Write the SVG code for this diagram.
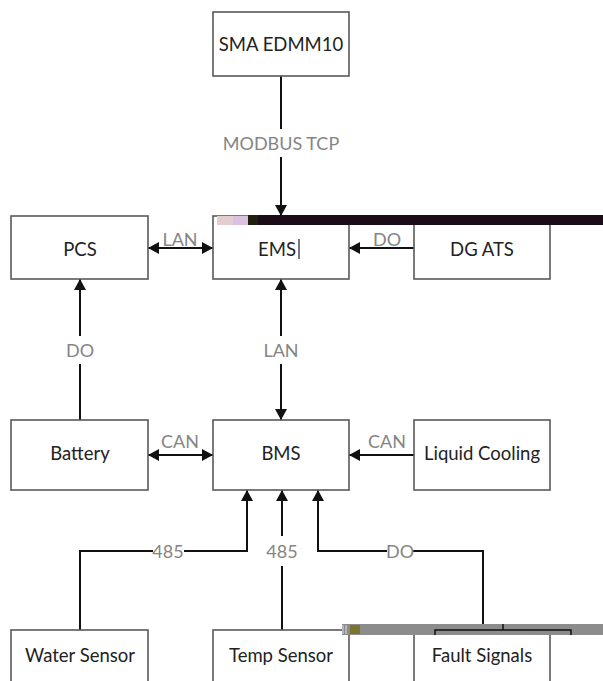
<svg xmlns="http://www.w3.org/2000/svg" width="603" height="681" viewBox="0 0 603 681">
<style>
.box{fill:#fff;stroke:#595959;stroke-width:1.6}
.nt{font-family:Lato,"Liberation Sans",sans-serif;font-size:18.5px;fill:#222;text-anchor:middle;dominant-baseline:central}
.lb{font-family:Lato,"Liberation Sans",sans-serif;font-size:18px;fill:#858585;text-anchor:middle;dominant-baseline:central}
.ln{fill:none;stroke:#111;stroke-width:2}
</style>
<defs>
<marker id="ah" markerUnits="userSpaceOnUse" markerWidth="11" markerHeight="12" refX="11" refY="6" orient="auto-start-reverse">
<path d="M0,0 L11,6 L0,12 z" fill="#111"/>
</marker>
</defs>
<rect width="603" height="681" fill="#fff"/>

<g id="connectors">
<path class="ln" d="M281,76 V129"/>
<path class="ln" d="M281,157 V216" marker-end="url(#ah)"/>
<text class="lb" x="281" y="143">MODBUS TCP</text>
<path class="ln" d="M148,248 H213" marker-start="url(#ah)" marker-end="url(#ah)"/>
<text class="lb" x="180" y="239">LAN</text>
<path class="ln" d="M414,248 H349" marker-end="url(#ah)"/>
<text class="lb" x="387" y="239">DO</text>
<path class="ln" d="M80,420 V364"/>
<path class="ln" d="M80,336 V279" marker-end="url(#ah)"/>
<text class="lb" x="80" y="350">DO</text>
<path class="ln" d="M281,336 V279" marker-end="url(#ah)"/>
<path class="ln" d="M281,364 V420" marker-end="url(#ah)"/>
<text class="lb" x="281" y="350">LAN</text>
<path class="ln" d="M148,455 H213" marker-start="url(#ah)" marker-end="url(#ah)"/>
<text class="lb" x="180" y="441">CAN</text>
<path class="ln" d="M414,455 H349" marker-end="url(#ah)"/>
<text class="lb" x="387" y="441">CAN</text>
<path class="ln" d="M80,630 V551 H153"/>
<path class="ln" d="M184,551 H247 V490" marker-end="url(#ah)"/>
<text class="lb" x="168" y="551">485</text>
<path class="ln" d="M282,630 V566"/>
<path class="ln" d="M282,536 V490" marker-end="url(#ah)"/>
<text class="lb" x="282" y="551">485</text>
<path class="ln" d="M483,624 V551 H413"/>
<path class="ln" d="M387,551 H318 V490" marker-end="url(#ah)"/>
<text class="lb" x="400" y="551">DO</text>
</g>

<g id="sma"><rect class="box" x="213" y="12" width="136" height="64"/><text class="nt" x="281" y="44">SMA EDMM10</text></g>
<g id="pcs"><rect class="box" x="11" y="216" width="137" height="63"/><text class="nt" x="80" y="249">PCS</text></g>
<g id="ems"><rect class="box" x="213" y="216" width="136" height="63"/><text class="nt" x="277" y="249">EMS</text><line x1="299" y1="239" x2="299" y2="259" stroke="#222" stroke-width="1.2"/></g>
<g id="dgats"><rect class="box" x="414" y="216" width="136" height="63"/><text class="nt" x="482" y="249">DG ATS</text></g>
<g id="battery"><rect class="box" x="11" y="420" width="137" height="70"/><text class="nt" x="80" y="453">Battery</text></g>
<g id="bms"><rect class="box" x="213" y="420" width="136" height="70"/><text class="nt" x="281" y="453">BMS</text></g>
<g id="cooling"><rect class="box" x="414" y="420" width="136" height="70"/><text class="nt" x="482" y="453">Liquid Cooling</text></g>
<g id="water"><rect class="box" x="11" y="630" width="137" height="70"/><text class="nt" x="80" y="655">Water Sensor</text></g>
<g id="temp"><rect class="box" x="213" y="630" width="136" height="70"/><text class="nt" x="281" y="655">Temp Sensor</text></g>
<g id="fault"><rect class="box" x="414" y="630" width="136" height="70"/><text class="nt" x="482" y="655">Fault Signals</text></g>

<g id="artifacts">
<rect x="217" y="216" width="16" height="9" fill="#e2cdd0"/>
<rect x="233" y="216" width="15" height="9" fill="#dcc0e2"/>
<rect x="248" y="215" width="355" height="10" fill="#1c0c18"/>
<rect x="248" y="215" width="10" height="10" fill="#1f1f10"/>
<rect x="342" y="624" width="261" height="11" fill="#8c8c8c"/>
<rect x="350" y="625" width="10" height="9" fill="#7a7430"/>
<line x1="343" y1="625" x2="343" y2="634" stroke="#ddd" stroke-width="1"/>
<line x1="346" y1="625" x2="346" y2="634" stroke="#ddd" stroke-width="1"/>
<path d="M435,635 V630 H571 V635 M503,624 V630" fill="none" stroke="#111" stroke-width="1.5"/>
</g>
</svg>
